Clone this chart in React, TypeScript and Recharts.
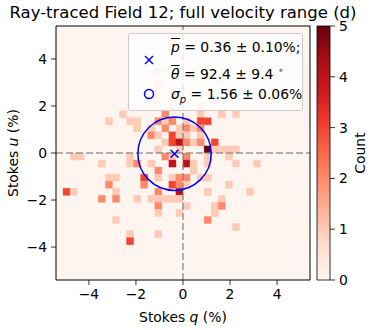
import {
  ComposedChart,
  XAxis,
  YAxis,
  Scatter,
  Bar,
  ReferenceArea,
  ReferenceLine,
} from 'recharts';

document.body.style.margin = '0';

const FONT = '"DejaVu Sans", sans-serif';
const W = 389;
const H = 330;

// axes: q, u in %, histogram 36 x 36 bins of 0.3 over [-5.4, 5.4]
const LIM = 5.4;
const BIN = 0.3;
const axisTicks = [-4, -2, 0, 2, 4];
const countTicks = [0, 1, 2, 3, 4, 5];
const COUNT_MAX = 5;

// [q bin index, u bin index (from bottom), count]
const cells: [number, number, number][] = [
  [14, 29, 1], [19, 29, 1], [23, 28, 1], [14, 27, 1], [22, 25, 1],
  [16, 24, 1], [20, 24, 1],
  [9, 23, 1], [15, 23, 2], [20, 23, 1], [23, 23, 1], [25, 23, 1],
  [7, 22, 1], [10, 22, 1], [11, 22, 1], [14, 22, 2], [15, 22, 1], [16, 22, 2], [18, 22, 1], [20, 22, 3], [21, 22, 3],
  [11, 21, 1], [13, 21, 1], [15, 21, 2], [17, 21, 1], [18, 21, 2], [19, 21, 1], [20, 21, 2],
  [13, 20, 2], [14, 20, 1], [16, 20, 3], [17, 20, 1], [18, 20, 1], [20, 20, 1],
  [15, 19, 1], [16, 19, 3], [17, 19, 4], [18, 19, 2], [19, 19, 1], [20, 19, 2], [22, 19, 3],
  [14, 18, 1], [17, 18, 1], [21, 18, 5], [22, 18, 1], [23, 18, 1], [24, 18, 1], [25, 18, 1],
  [2, 17, 1], [3, 17, 1], [10, 17, 1], [15, 17, 2], [16, 17, 1], [18, 17, 2], [21, 17, 1], [24, 17, 1],
  [6, 16, 1], [10, 16, 1], [11, 16, 2], [13, 16, 1], [16, 16, 4], [18, 16, 4], [19, 16, 1], [21, 16, 1], [25, 16, 1], [28, 16, 1],
  [14, 15, 2], [19, 15, 1],
  [7, 14, 1], [8, 14, 1], [12, 14, 3], [14, 14, 1], [16, 14, 1], [17, 14, 2], [18, 14, 2], [20, 14, 1], [21, 14, 1],
  [7, 13, 2], [12, 13, 2], [16, 13, 3], [17, 13, 2], [18, 13, 1], [24, 13, 1],
  [1, 12, 3], [2, 12, 1], [8, 12, 1], [14, 12, 2], [17, 12, 4], [21, 12, 1], [27, 12, 1],
  [6, 11, 2], [8, 11, 2], [11, 11, 1], [13, 11, 1], [14, 11, 1], [15, 11, 1], [16, 11, 1], [17, 11, 1], [23, 11, 1],
  [14, 10, 2], [18, 10, 1], [22, 10, 1], [23, 10, 2],
  [14, 9, 1], [17, 9, 1], [22, 9, 1],
  [8, 8, 1], [21, 8, 2],
  [25, 7, 1],
  [10, 6, 1], [14, 6, 1],
  [10, 5, 3],
];

// mean polarisation point and dispersion radius
const meanPoint = [{ q: -0.36, u: -0.03 }];
const SIGMA_P = 1.56;

// colorbar: one full-height bar spanning the count range
const colorbarData = [{ name: 'count', top: COUNT_MAX }];

// layout
const TOP = 26;
const Y_AXIS_W = 56;
const X_AXIS_H = 50;
const RIGHT = 79;
const PLOT_W = W - Y_AXIS_W - RIGHT;
const PX_PER_UNIT = PLOT_W / (2 * LIM);

const REDS = ['#fff5f0', '#fee0d2', '#fcbba1', '#fc9272', '#fb6a4a', '#ef3b2c', '#cb181d', '#a50f15', '#67000d'];

const hexToRgb = (h: string) => [1, 3, 5].map((i) => parseInt(h.slice(i, i + 2), 16));
const reds = (t: number) => {
  const x = Math.max(0, Math.min(1, t)) * (REDS.length - 1);
  const i = Math.min(Math.floor(x), REDS.length - 2);
  const f = x - i;
  const a = hexToRgb(REDS[i]);
  const b = hexToRgb(REDS[i + 1]);
  return `rgb(${a.map((v, k) => Math.round(v + (b[k] - v) * f)).join(',')})`;
};

const minus = (v: number) => String(v).replace('-', '\u2212');
const tickStyle = { fontSize: 13.9, fill: '#000', fontFamily: FONT };
const tickLine = { stroke: '#000', strokeWidth: 0.8 };
const frame = { stroke: '#000', strokeWidth: 1 };

const CrossShape = (props: any) => {
  const { cx, cy } = props;
  const s = 4;
  return (
    <g stroke="blue" strokeWidth={1.5}>
      <line x1={cx - s} y1={cy - s} x2={cx + s} y2={cy + s} />
      <line x1={cx - s} y1={cy + s} x2={cx + s} y2={cy - s} />
    </g>
  );
};

const RingShape = (props: any) => (
  <circle cx={props.cx} cy={props.cy} r={SIGMA_P * PX_PER_UNIT} fill="none" stroke="blue" strokeWidth={1.5} />
);

const ovl = { textDecoration: 'overline', fontStyle: 'italic' } as const;

const rotatedLabel = (text: React.ReactNode, dx: number) =>
  ({ viewBox }: any) => {
    const x = viewBox.x + dx;
    const y = viewBox.y + viewBox.height / 2;
    return (
      <text
        x={x}
        y={y}
        transform={`rotate(-90 ${x} ${y})`}
        textAnchor="middle"
        dominantBaseline="central"
        fontSize={13.9}
        fontFamily={FONT}
        fill="#000"
      >
        {text}
      </text>
    );
  };

export default function App() {
  return (
    <div style={{ position: 'relative', width: W, height: H, fontFamily: FONT, background: '#fff' }}>
      <div
        style={{
          position: 'absolute',
          left: 0,
          top: 3,
          width: 2 * (Y_AXIS_W + PLOT_W / 2),
          textAlign: 'center',
          fontSize: 16.5,
          lineHeight: '20px',
          color: '#000',
          whiteSpace: 'nowrap',
        }}
      >
        Ray-traced Field 12; full velocity range (d)
      </div>

      <div style={{ position: 'absolute', left: 0, top: 0 }}>
        <ComposedChart width={W} height={H} margin={{ top: TOP, right: RIGHT, bottom: 0, left: 0 }}>
          <XAxis
            type="number"
            dataKey="q"
            domain={[-LIM, LIM]}
            ticks={axisTicks}
            allowDataOverflow
            height={X_AXIS_H}
            tickSize={5}
            tickMargin={4}
            tick={tickStyle}
            tickFormatter={minus}
            axisLine={frame}
            tickLine={tickLine}
            label={{
              content: ({ viewBox }: any) => (
                <text
                  x={viewBox.x + viewBox.width / 2}
                  y={viewBox.y + 37}
                  textAnchor="middle"
                  dominantBaseline="central"
                  fontSize={13.9}
                  fontFamily={FONT}
                  fill="#000"
                >
                  Stokes <tspan fontStyle="italic">q</tspan> (%)
                </text>
              ),
            }}
          />
          <YAxis
            type="number"
            dataKey="u"
            domain={[-LIM, LIM]}
            ticks={axisTicks}
            allowDataOverflow
            width={Y_AXIS_W}
            tickSize={5}
            tickMargin={4}
            tick={tickStyle}
            tickFormatter={minus}
            axisLine={frame}
            tickLine={tickLine}
            label={{
              content: rotatedLabel(
                <>
                  Stokes <tspan fontStyle="italic">u</tspan> (%)
                </>,
                13,
              ),
            }}
          />
          <ReferenceArea x1={-LIM} x2={LIM} y1={-LIM} y2={LIM} fill={REDS[0]} fillOpacity={1} stroke="none" />
          {cells.map(([qi, ui, n]) => {
            const c = reds(n / COUNT_MAX);
            return (
              <ReferenceArea
                key={`${qi}-${ui}`}
                x1={-LIM + qi * BIN}
                x2={-LIM + (qi + 1) * BIN}
                y1={-LIM + ui * BIN}
                y2={-LIM + (ui + 1) * BIN}
                fill={c}
                fillOpacity={1}
                stroke={c}
                strokeWidth={0.4}
              />
            );
          })}
          <ReferenceLine x={0} stroke="#808080" strokeOpacity={0.6} strokeWidth={2} strokeDasharray="7 3" />
          <ReferenceLine y={0} stroke="#808080" strokeOpacity={0.6} strokeWidth={2} strokeDasharray="7 3" />
          <Scatter data={meanPoint} shape={RingShape} isAnimationActive={false} />
          <Scatter data={meanPoint} shape={CrossShape} isAnimationActive={false} />
          <ReferenceLine x={LIM} {...frame} />
          <ReferenceLine y={LIM} {...frame} />
        </ComposedChart>
      </div>

      {/* colorbar */}
      <div style={{ position: 'absolute', left: 0, top: 0 }}>
        <ComposedChart
          width={W}
          height={H}
          data={colorbarData}
          margin={{ top: TOP, right: 0, bottom: X_AXIS_H, left: 317 }}
          barCategoryGap={0}
        >
          <defs>
            <linearGradient id="redsBar" x1="0" y1="1" x2="0" y2="0">
              {REDS.map((c, i) => (
                <stop key={c} offset={i / (REDS.length - 1)} stopColor={c} />
              ))}
            </linearGradient>
          </defs>
          <XAxis type="category" dataKey="name" hide />
          <YAxis
            type="number"
            orientation="right"
            domain={[0, COUNT_MAX]}
            ticks={countTicks}
            width={59}
            tickSize={5}
            tickMargin={4}
            tick={tickStyle}
            axisLine={false}
            tickLine={tickLine}
            label={{ content: rotatedLabel('Count', 30) }}
          />
          <Bar dataKey="top" fill="url(#redsBar)" stroke="#000" strokeWidth={0.8} isAnimationActive={false} />
        </ComposedChart>
      </div>

      {/* legend */}
      <div
        style={{
          position: 'absolute',
          left: 128,
          top: 33,
          width: 175,
          height: 78,
          boxSizing: 'border-box',
          background: 'rgba(255,255,255,0.8)',
          border: '1px solid #cccccc',
          borderRadius: 3,
          fontSize: 13.9,
          color: '#000',
          whiteSpace: 'nowrap',
        }}
      >
        <svg width={40} height={76} style={{ position: 'absolute', left: 0, top: 0 }}>
          <g stroke="blue" strokeWidth={1.5}>
            <line x1={16} y1={22} x2={24} y2={30} />
            <line x1={16} y1={30} x2={24} y2={22} />
          </g>
          <circle cx={20} cy={60} r={4.5} fill="none" stroke="blue" strokeWidth={1.5} />
        </svg>
        <div style={{ position: 'absolute', left: 42, top: 3, lineHeight: '20px' }}>
          <span style={ovl}>p</span> = 0.36 ± 0.10%;
        </div>
        <div style={{ position: 'absolute', left: 42, top: 26, lineHeight: '20px' }}>
          <span style={ovl}>θ</span> = 92.4 ± 9.4 <sup style={{ fontSize: 9 }}>∘</sup>
        </div>
        <div style={{ position: 'absolute', left: 42, top: 50, lineHeight: '20px' }}>
          <i>σ</i>
          <sub style={{ fontSize: 10, fontStyle: 'italic' }}>p</sub> = 1.56 ± 0.06%
        </div>
      </div>
    </div>
  );
}
